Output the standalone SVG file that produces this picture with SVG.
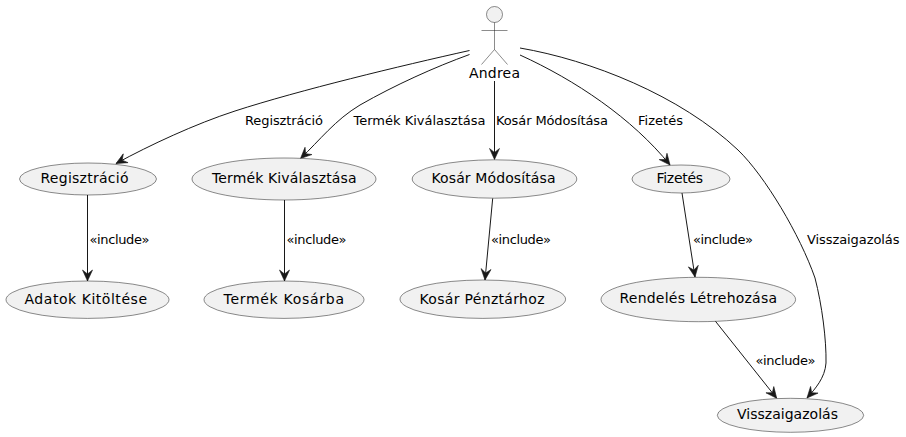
<svg xmlns="http://www.w3.org/2000/svg" width="906" height="437" viewBox="0 0 906 437">
<style>
.n{fill:#f1f1f1;stroke:#181818;stroke-width:.5}
.t{font-family:"DejaVu Sans",sans-serif;font-size:14px;fill:#000}
.l{font-family:"DejaVu Sans",sans-serif;font-size:13px;fill:#000}
.c{fill:none;stroke:#181818;stroke-width:1}
.a{fill:none;stroke:#181818;stroke-width:.5}
</style>
<defs><marker id="h" markerUnits="userSpaceOnUse" markerWidth="14" markerHeight="12" refX="11" refY="5" orient="auto" overflow="visible"><path d="M11 5L0 0L4 5L0 10Z" fill="#181818" stroke="#181818" stroke-width=".6"/></marker></defs>
<rect width="906" height="437" fill="#fff"/>
<g id="connectors">
<path class="c" marker-end="url(#h)" d="M469.500 50.500C400 66 300 90 235 111C195 124 150 145 116 163.500"/>
<path class="c" marker-end="url(#h)" d="M469.500 54.500C435 67 395 85 360 105C335 120 320 140 300.500 158.500"/>
<path class="c" marker-end="url(#h)" d="M494.500 81V159.500"/>
<path class="c" marker-end="url(#h)" d="M520 55C575 80 632 118 670 165"/>
<path class="c" marker-end="url(#h)" d="M520 48C590 60 680 95 738 150C765 176 800 235 815 278C822 305 826.500 340 826 363C825 378 815 389 807 398"/>
<path class="c" marker-end="url(#h)" d="M87.500 195V281"/>
<path class="c" marker-end="url(#h)" d="M284.500 200V281"/>
<path class="c" marker-end="url(#h)" d="M492.700 198.300L485 280"/>
<path class="c" marker-end="url(#h)" d="M682 193L695 277"/>
<path class="c" marker-end="url(#h)" d="M715 320.700L776.700 398.300"/>
</g>
<g class="l">
<text x="245" y="125" textLength="78">Regisztráció</text>
<text x="353.500" y="125" textLength="132">Termék Kiválasztása</text>
<text x="496" y="125" textLength="112">Kosár Módosítása</text>
<text x="638" y="125" textLength="45">Fizetés</text>
<text x="807" y="244" textLength="92.500">Visszaigazolás</text>
<text x="89.500" y="244" textLength="60">«include»</text>
<text x="286.500" y="244" textLength="60">«include»</text>
<text x="491" y="244" textLength="60">«include»</text>
<text x="693" y="244" textLength="60">«include»</text>
<text x="755.500" y="365" textLength="60">«include»</text>
</g>
<g id="andrea">
<circle class="n" cx="494.500" cy="14.500" r="8"/>
<path class="a" d="M494.500 22.500V49.500M481.500 30.500H507.500M494.500 49.500L481.500 64.500M494.500 49.500L507.500 64.500"/>
<text class="t" x="469" y="78" textLength="51">Andrea</text>
</g>
<g id="registration"><ellipse class="n" cx="88" cy="179" rx="68.500" ry="16"/><text class="t" x="40.500" y="183" textLength="88">Regisztráció</text></g>
<g id="select"><ellipse class="n" cx="284" cy="179" rx="92" ry="21"/><text class="t" x="212" y="183" textLength="144.500">Termék Kiválasztása</text></g>
<g id="modify"><ellipse class="n" cx="494.500" cy="179" rx="82.300" ry="19.200"/><text class="t" x="431.500" y="183" textLength="124">Kosár Módosítása</text></g>
<g id="pay"><ellipse class="n" cx="681" cy="179" rx="49" ry="14"/><text class="t" x="656.500" y="183" textLength="46.500">Fizetés</text></g>
<g id="fill"><ellipse class="n" cx="87.500" cy="299.700" rx="81.500" ry="18.700"/><text class="t" x="24.500" y="303.500" textLength="122.500">Adatok Kitöltése</text></g>
<g id="basket"><ellipse class="n" cx="284" cy="299.700" rx="80" ry="18.700"/><text class="t" x="223.500" y="303.500" textLength="120.500">Termék Kosárba</text></g>
<g id="checkout"><ellipse class="n" cx="482.800" cy="299.200" rx="82.800" ry="19.200"/><text class="t" x="419.500" y="303.500" textLength="125">Kosár Pénztárhoz</text></g>
<g id="order"><ellipse class="n" cx="698.300" cy="299.500" rx="97.300" ry="22.200"/><text class="t" x="619.500" y="303" textLength="157.500">Rendelés Létrehozása</text></g>
<g id="confirm"><ellipse class="n" cx="790.500" cy="415.300" rx="73.200" ry="17"/><text class="t" x="737" y="419" textLength="101">Visszaigazolás</text></g>
</svg>
